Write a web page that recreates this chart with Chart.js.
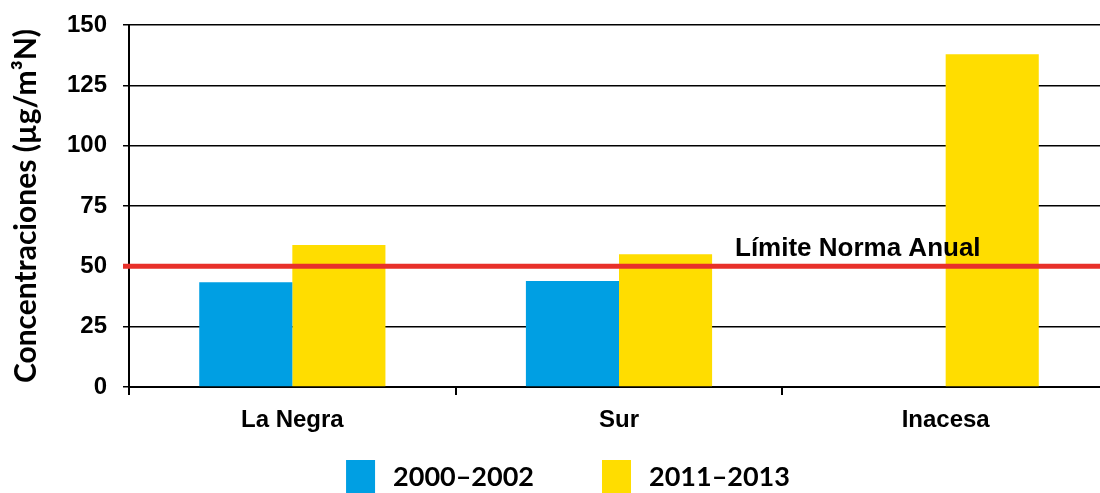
<!DOCTYPE html>
<html>
<head>
<meta charset="utf-8">
<script src="https://cdn.jsdelivr.net/npm/chart.js@4/dist/chart.umd.min.js"></script>
<style>
  html, body { margin: 0; padding: 0; background: #fff; overflow: hidden; }
  #wrap { width: 1109px; height: 493px; position: relative; }
</style>
</head>
<body>
<div id="wrap"><canvas id="chart"></canvas></div>
<script>
const categories = ['La Negra', 'Sur', 'Inacesa'];
const period1 = [43.4, 43.9, null];   // 2000–2002
const period2 = [58.8, 55.0, 137.9];  // 2011–2013
const seriesLabels = ['2000–2002', '2011–2013'];
const limitValue = 50;
const limitLabel = 'Límite Norma Anual';
const yMax = 150;
const yStep = 25;

const blue = '#009FE3';
const yellow = '#FFDD00';

// red limit line + its label, drawn over the bars
const limitLine = {
  id: 'limitLine',
  afterDatasetsDraw(chart) {
    const { ctx, chartArea, scales } = chart;
    const y = scales.y.getPixelForValue(limitValue);
    ctx.save();
    ctx.strokeStyle = '#E8302A';
    ctx.lineWidth = 5;
    ctx.beginPath();
    ctx.moveTo(chartArea.left - 6, y);
    ctx.lineTo(chartArea.right, y);
    ctx.stroke();
    ctx.fillStyle = '#000';
    ctx.font = 'bold 26px "Liberation Sans", Arial, sans-serif';
    ctx.textBaseline = 'alphabetic';
    ctx.fillText(limitLabel, 735, y - 10);
    ctx.restore();
  }
};

// legend along the bottom edge
const bottomLegend = {
  id: 'bottomLegend',
  afterDraw(chart) {
    const { ctx } = chart;
    const box = { w: 29, h: 33 };
    const gap = 18, spacing = 68;
    ctx.save();
    ctx.font = 'bold 27px Lato, "Open Sans", sans-serif';
    const items = chart.data.datasets.map(ds => ({
      text: ds.label, color: ds.backgroundColor,
      tw: ctx.measureText(ds.label).width
    }));
    const total = items.reduce((s, it) => s + box.w + gap + it.tw, 0) + spacing * (items.length - 1);
    let x = 568 - total / 2;
    const top = 460;
    items.forEach(it => {
      ctx.fillStyle = it.color;
      ctx.fillRect(x, top, box.w, box.h);
      ctx.fillStyle = '#000';
      ctx.textBaseline = 'middle';
      ctx.fillText(it.text, x + box.w + gap, top + box.h / 2 + 1);
      x += box.w + gap + it.tw + spacing;
    });
    ctx.restore();
  }
};

new Chart(document.getElementById('chart'), {
  type: 'bar',
  data: {
    labels: categories,
    datasets: [
      { label: seriesLabels[0], data: period1, backgroundColor: blue },
      { label: seriesLabels[1], data: period2, backgroundColor: yellow }
    ]
  },
  options: {
    responsive: true,
    maintainAspectRatio: false,
    animation: false,
    layout: { padding: 0 },
    datasets: { bar: { barPercentage: 1, categoryPercentage: 0.57 } },
    plugins: {
      legend: { display: false },
      tooltip: { enabled: false }
    },
    scales: {
      x: {
        offset: true,
        grid: { drawOnChartArea: false, drawTicks: true, tickLength: 8, color: '#000', lineWidth: 2 },
        border: { color: '#000', width: 2 },
        ticks: {
          color: '#000', padding: 11,
          font: { family: '"Liberation Sans", Arial, sans-serif', size: 24, weight: 'bold' }
        },
        afterFit(scale) { scale.height = 106; }
      },
      y: {
        min: 0,
        max: yMax,
        grid: { color: '#000', lineWidth: 1.5, tickLength: 6 },
        border: { color: '#000', width: 2 },
        ticks: {
          stepSize: yStep, color: '#000', padding: 16,
          font: { family: '"Liberation Sans", Arial, sans-serif', size: 24, weight: 'bold' }
        },
        title: {
          display: true,
          text: 'Concentraciones (µg/m³N)',
          color: '#000',
          padding: { top: 8, bottom: 0 },
          font: { family: 'Lato, "Open Sans", sans-serif', size: 30, weight: 'bold' }
        },
        afterFit(scale) {
          scale.width = 129;
          scale.paddingTop = 25;
        }
      }
    }
  },
  plugins: [limitLine, bottomLegend]
});
</script>
</body>
</html>
